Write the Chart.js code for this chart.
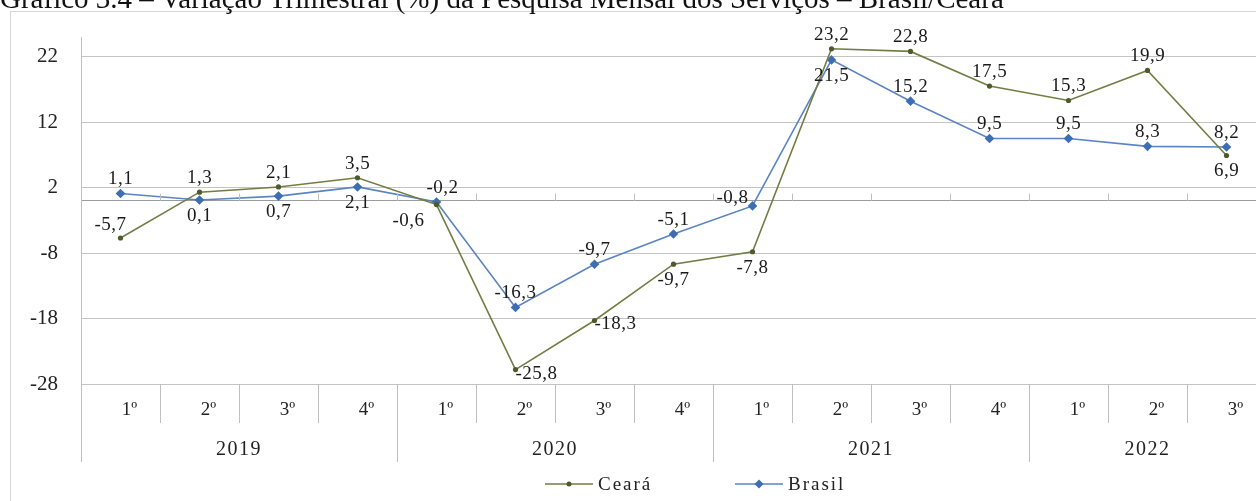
<!DOCTYPE html>
<html>
<head>
<meta charset="utf-8">
<script src="https://cdn.jsdelivr.net/npm/chart.js@4/dist/chart.umd.min.js"></script>
<style>
html,body{margin:0;padding:0;background:#fff;overflow:hidden;}
#frame{position:absolute;left:10px;top:11px;width:1400px;height:700px;border:1px solid #d6d6d6;box-sizing:border-box;}
#title{position:absolute;left:0;top:-17px;font:29px "Liberation Serif",serif;line-height:30px;white-space:nowrap;color:#111;z-index:2;}
#wrap{position:absolute;left:0;top:0;width:1272px;height:501px;}
</style>
</head>
<body>
<div id="frame"></div>
<div id="title">Gráfico 3.4 – Variação Trimestral (%) da Pesquisa Mensal dos Serviços – Brasil/Ceará</div>
<div id="wrap"><canvas id="pmsChart"></canvas></div>
<script>
const quarters = ["1º","2º","3º","4º","1º","2º","3º","4º","1º","2º","3º","4º","1º","2º","3º"];
const years = ["2019","2020","2021","2022"];
const quartersPerYear = [4,4,4,3];
const ceara = [-5.7,1.3,2.1,3.5,-0.6,-25.8,-18.3,-9.7,-7.8,23.2,22.8,17.5,15.3,19.9,6.9];
const brasil = [1.1,0.1,0.7,2.1,-0.2,-16.3,-9.7,-5.1,-0.8,21.5,15.2,9.5,9.5,8.3,8.2];
const yTicks = [-28,-18,-8,2,12,22];

// where each value label sits relative to its point
const cearaLabelPos = ["al","a","a","a","bl","r","r","b","b","a","a","a","a","a","b"];
const brasilLabelPos = ["a","b","b","b","ar","a","a","a","l","b","a","a","a","a","a"];
const offsets = {a:[0,-14], ar:[6,-14], b:[0,16], al:[-10,-13], bl:[-28,16], l:[-20,-8], r:[21,4]};

const serif = "'Liberation Serif', 'Times New Roman', serif";
const fmt = v => v.toFixed(1).replace(".", ",");

const tableAxis = {
    id: "tableAxis",
    afterDraw(chart){
        const c = chart.ctx, x = chart.scales.x, area = chart.chartArea;
        const y0 = chart.scales.y.getPixelForValue(0);
        const half = (x.getPixelForValue(1) - x.getPixelForValue(0)) / 2;
        const bottom = area.bottom;
        c.save();
        c.strokeStyle = "#bfbfbf";
        c.lineWidth = 1;
        // small ticks on the zero line
        for(let i = 1; i < quarters.length; i++){
            const bx = Math.round(x.getPixelForValue(i) - half) + 0.5;
            c.beginPath(); c.moveTo(bx, y0); c.lineTo(bx, y0 - 7); c.stroke();
        }
        // y axis runs down through the label table
        c.beginPath(); c.moveTo(Math.round(area.left) + 0.5, bottom); c.lineTo(Math.round(area.left) + 0.5, bottom + 78); c.stroke();
        // separators
        let yearEnds = [], acc = 0;
        quartersPerYear.forEach(n => { acc += n; yearEnds.push(acc); });
        for(let i = 1; i <= quarters.length; i++){
            const bx = Math.round(x.getPixelForValue(i - 1) + half) + 0.5;
            const len = yearEnds.includes(i) ? 78 : 39;
            c.beginPath(); c.moveTo(bx, bottom); c.lineTo(bx, bottom + len); c.stroke();
        }
        c.fillStyle = "#222";
        c.textBaseline = "middle";
        c.textAlign = "center";
        c.font = "19px " + serif;
        quarters.forEach((q, i) => c.fillText(q, x.getPixelForValue(i) + 9, bottom + 26));
        c.font = "20px " + serif;
        c.letterSpacing = "1.5px";
        let start = 0;
        years.forEach((yr, k) => {
            const end = start + quartersPerYear[k] - 1;
            const cx = (x.getPixelForValue(start) + x.getPixelForValue(end)) / 2;
            c.fillText(yr, cx, bottom + 66);
            start = end + 1;
        });
        // legend
        c.font = "19px " + serif;
        c.letterSpacing = "2px";
        c.textAlign = "left";
        const ly = 484;
        let lx = 545;
        chart.data.datasets.forEach(ds => {
            c.strokeStyle = ds.borderColor;
            c.lineWidth = 1.5;
            c.beginPath(); c.moveTo(lx, ly); c.lineTo(lx + 48, ly); c.stroke();
            c.fillStyle = ds.pointBackgroundColor;
            const mx = lx + 24;
            c.beginPath();
            if(ds.pointStyle === "rectRot"){
                c.moveTo(mx, ly - 4.5); c.lineTo(mx + 4.5, ly); c.lineTo(mx, ly + 4.5); c.lineTo(mx - 4.5, ly);
                c.closePath();
            } else {
                c.arc(mx, ly, 2.5, 0, Math.PI * 2);
            }
            c.fill();
            c.fillStyle = "#222";
            c.fillText(ds.label, lx + 53, ly + 1);
            lx += 190;
        });
        c.restore();
    },
    afterDatasetsDraw(chart){
        const c = chart.ctx;
        c.save();
        c.font = "19px " + serif;
        c.letterSpacing = "0.5px";
        c.fillStyle = "#1a1a1a";
        c.textAlign = "center";
        c.textBaseline = "middle";
        chart.data.datasets.forEach((ds, di) => {
            const meta = chart.getDatasetMeta(di);
            meta.data.forEach((pt, i) => {
                const o = offsets[ds.labelPos[i]];
                c.fillText(fmt(ds.data[i]), pt.x + o[0], pt.y + o[1]);
            });
        });
        c.restore();
    }
};

new Chart(document.getElementById("pmsChart"), {
    type: "line",
    data: {
        labels: quarters,
        datasets: [{
            label: "Ceará",
            data: ceara,
            labelPos: cearaLabelPos,
            borderColor: "#717d44",
            borderWidth: 1.6,
            pointStyle: "circle",
            pointRadius: 2.6,
            pointBackgroundColor: "#4f5a2c",
            pointBorderWidth: 0,
            tension: 0
        },{
            label: "Brasil",
            data: brasil,
            labelPos: brasilLabelPos,
            borderColor: "#5a84c2",
            borderWidth: 1.6,
            pointStyle: "rectRot",
            pointRadius: 4.8,
            pointBackgroundColor: "#3d6db3",
            pointBorderWidth: 0,
            tension: 0
        }]
    },
    options: {
        responsive: true,
        maintainAspectRatio: false,
        animation: false,
        layout: { padding: { left: 10, top: 37, right: 6, bottom: 117 } },
        plugins: { legend: { display: false }, tooltip: { enabled: false } },
        scales: {
            x: { display: false, offset: true },
            y: {
                min: -28,
                max: 25,
                afterFit: s => { s.width = 71; },
                afterBuildTicks: s => { s.ticks = yTicks.concat([0]).sort((a, b) => a - b).map(v => ({value: v})); },
                ticks: {
                    padding: 23,
                    color: "#222",
                    font: { family: serif, size: 21 },
                    callback: v => v === 0 ? "" : String(v)
                },
                grid: {
                    drawTicks: false,
                    color: c => c.tick && c.tick.value === 0 ? "#9c9c9c" : "#c4c4c4"
                },
                border: { color: "#bfbfbf" }
            }
        }
    },
    plugins: [tableAxis]
});
</script>
</body>
</html>
